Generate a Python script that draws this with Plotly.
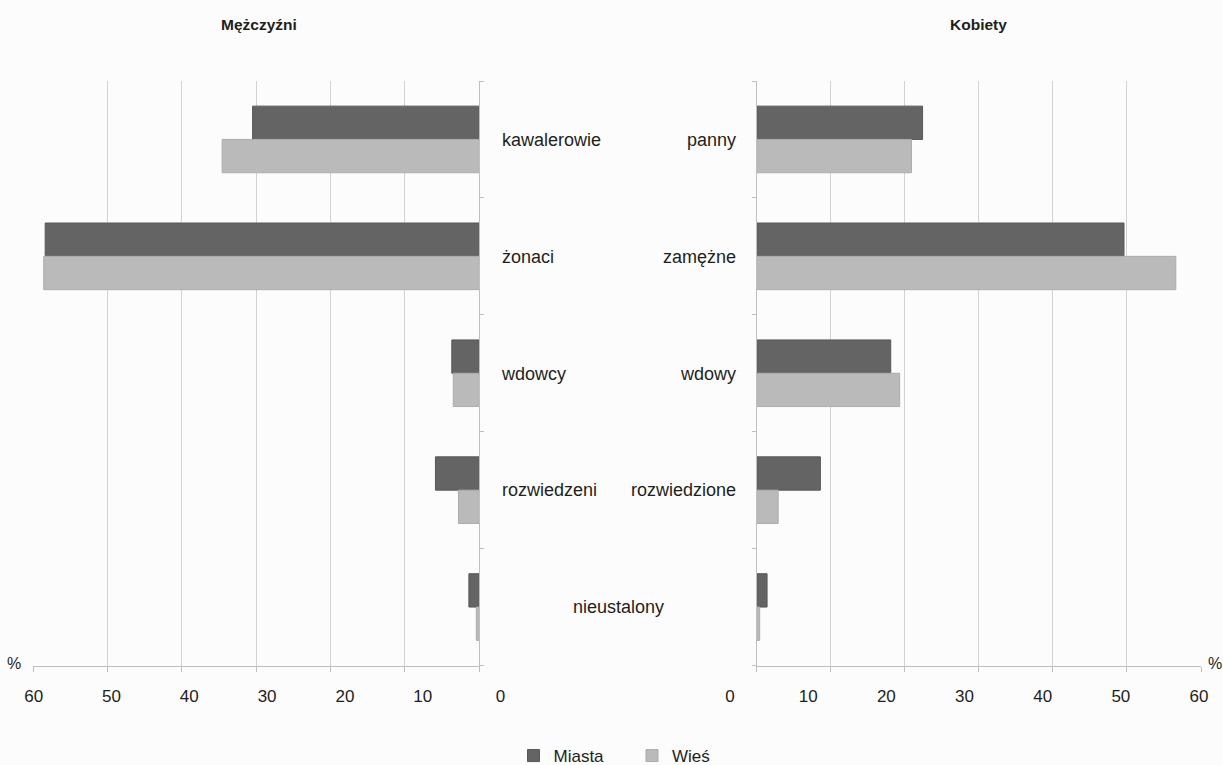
import plotly.graph_objects as go

# ---- data ----
male_categories = ["kawalerowie", "żonaci", "wdowcy", "rozwiedzeni", "nieustalony"]
female_categories = ["panny", "zamężne", "wdowy", "rozwiedzione", "nieustalony"]
male_miasta = [30.5, 58.4, 3.7, 5.9, 1.4]
male_wies = [34.6, 58.6, 3.5, 2.8, 0.4]
female_miasta = [22.4, 49.6, 18.1, 8.6, 1.4]
female_wies = [20.9, 56.6, 19.3, 2.9, 0.4]
series_names = ["Miasta", "Wieś"]
tick_values = [0, 10, 20, 30, 40, 50, 60]
panel_titles = ["Mężczyźni", "Kobiety"]

W, H = 1223, 765
def px(x):
    return x / W
def py(y):
    return 1 - y / H

C_MIASTA = "#646464"
C_WIES = "#bababa"
TXT = "#1e1e1e"
FONT = "Liberation Sans, Arial, sans-serif"
GRID = "#d2d2d2"
LINE = "#bfbfbf"

fig = go.Figure()

fig.add_trace(go.Bar(name=series_names[0], x=male_miasta, y=male_categories, orientation="h",
                     marker=dict(color=C_MIASTA, line=dict(color="#585858", width=1)),
                     xaxis="x", yaxis="y", legendgroup="m"))
fig.add_trace(go.Bar(name=series_names[1], x=male_wies, y=male_categories, orientation="h",
                     marker=dict(color=C_WIES, line=dict(color="#adadad", width=1)),
                     xaxis="x", yaxis="y", legendgroup="w"))
fig.add_trace(go.Bar(name=series_names[0], x=female_miasta, y=female_categories, orientation="h",
                     marker=dict(color=C_MIASTA, line=dict(color="#585858", width=1)),
                     xaxis="x2", yaxis="y2", legendgroup="m", showlegend=False))
fig.add_trace(go.Bar(name=series_names[1], x=female_wies, y=female_categories, orientation="h",
                     marker=dict(color=C_WIES, line=dict(color="#adadad", width=1)),
                     xaxis="x2", yaxis="y2", legendgroup="w", showlegend=False))

# helper empty traces carrying the tick-label axes
fig.add_trace(go.Scatter(x=[], y=[], xaxis="x3", yaxis="y3", showlegend=False, hoverinfo="skip"))
fig.add_trace(go.Scatter(x=[], y=[], xaxis="x4", yaxis="y3", showlegend=False, hoverinfo="skip"))

ydom = [py(665.5), py(81)]
label_pos = py(684)

fig.update_layout(
    template="none",
    width=W, height=H,
    margin=dict(l=0, r=0, t=0, b=0, pad=0, autoexpand=False),
    paper_bgcolor="#fcfcfc", plot_bgcolor="#fcfcfc",
    font=dict(family=FONT, size=17, color=TXT),
    barmode="group", bargap=0.43, bargroupgap=0,
    showlegend=True,
    legend=dict(orientation="h", x=px(632), xanchor="center", y=py(756), yanchor="middle",
                font=dict(size=17, color=TXT), bgcolor="rgba(0,0,0,0)", borderwidth=0,
                entrywidth=73.5, entrywidthmode="pixels"),
    xaxis=dict(domain=[px(33.3), px(479.3)], range=[60, 0], anchor="y", automargin=False,
               showgrid=True, gridcolor=GRID, gridwidth=1, tickvals=tick_values,
               showticklabels=False, ticks="outside", ticklen=5, tickcolor=LINE,
               showline=True, linecolor=LINE, linewidth=1, zeroline=False),
    xaxis2=dict(domain=[px(756.7), px(1201)], range=[0, 60], anchor="y2", automargin=False,
                showgrid=True, gridcolor=GRID, gridwidth=1, tickvals=tick_values,
                showticklabels=False, ticks="outside", ticklen=5, tickcolor=LINE,
                showline=True, linecolor=LINE, linewidth=1, zeroline=False),
    yaxis=dict(domain=ydom, anchor="x", side="right", type="category", automargin=False,
               categoryorder="array", categoryarray=male_categories, autorange="reversed",
               tickvals=male_categories, ticktext=male_categories[:-1] + [""],
               tickson="boundaries", ticks="outside", ticklen=4, tickcolor=LINE,
               showline=True, linecolor=LINE, linewidth=1, showgrid=False, zeroline=False,
               ticklabelstandoff=18, tickfont=dict(size=18, color=TXT)),
    yaxis2=dict(domain=ydom, anchor="x2", side="left", type="category", automargin=False,
                categoryorder="array", categoryarray=female_categories, autorange="reversed",
                tickvals=female_categories, ticktext=female_categories[:-1] + [""],
                tickson="boundaries", ticks="outside", ticklen=4, tickcolor=LINE,
                showline=True, linecolor=LINE, linewidth=1, showgrid=False, zeroline=False,
                ticklabelstandoff=16, tickfont=dict(size=18, color=TXT)),
    # tick-label axes (the labels are spread slightly wider than the gridlines in the original)
    xaxis3=dict(domain=[px(33.7), px(500.5)], range=[60, 0], anchor="free", position=label_pos,
                tickvals=tick_values, showgrid=False, zeroline=False, showline=False, ticks="",
                automargin=False, tickfont=dict(size=17, color=TXT)),
    xaxis4=dict(domain=[px(730), px(1199)], range=[0, 60], anchor="free", position=label_pos,
                tickvals=tick_values, showgrid=False, zeroline=False, showline=False, ticks="",
                automargin=False, tickfont=dict(size=17, color=TXT)),
    yaxis3=dict(domain=[0, 0.02], visible=False, anchor="x3"),
)

TITLE_FONT = dict(family=FONT, size=15.5, color=TXT)
annotations = [
    dict(text="<b>" + panel_titles[0] + "</b>", x=px(259), y=py(25), xref="paper", yref="paper",
         showarrow=False, font=TITLE_FONT, xanchor="center", yanchor="middle"),
    dict(text="<b>" + panel_titles[1] + "</b>", x=px(978), y=py(25), xref="paper", yref="paper",
         showarrow=False, font=TITLE_FONT, xanchor="center", yanchor="middle"),
    dict(text="%", x=px(14), y=py(663), xref="paper", yref="paper", showarrow=False,
         font=dict(size=16, color=TXT), xanchor="center", yanchor="middle"),
    dict(text="%", x=px(1215), y=py(663), xref="paper", yref="paper", showarrow=False,
         font=dict(size=16, color=TXT), xanchor="center", yanchor="middle"),
    dict(text=male_categories[-1], x=px(618.5), y=male_categories[-1], xref="paper", yref="y",
         showarrow=False, font=dict(size=18, color=TXT), xanchor="center", yanchor="middle"),
]
fig.update_layout(annotations=annotations)

fig.write_html("out.html", config={"displayModeBar": False},
               post_script="document.body.style.margin='0';")
